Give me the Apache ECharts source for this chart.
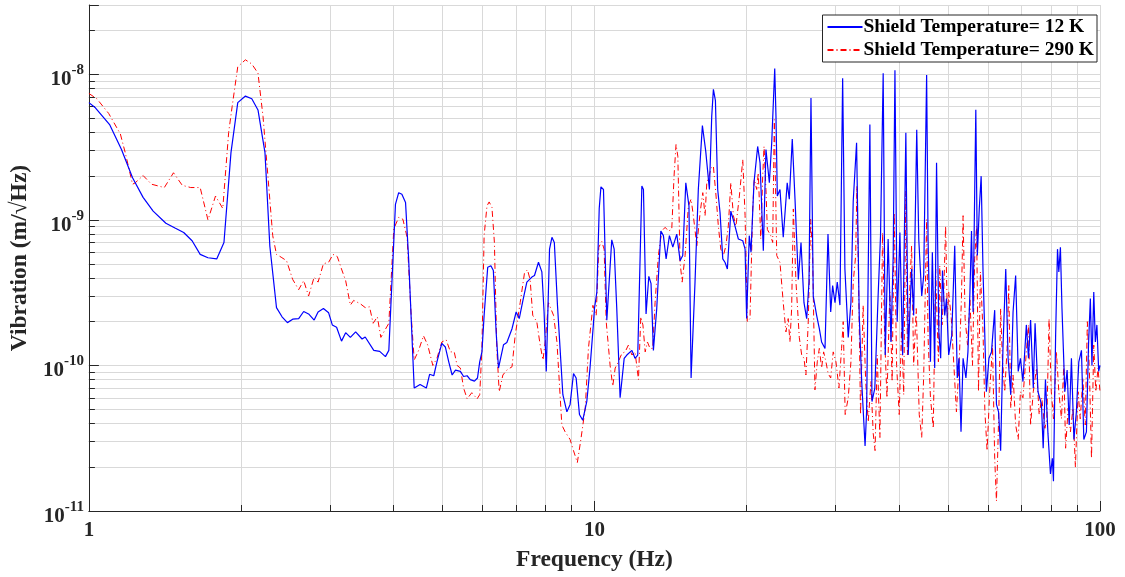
<!DOCTYPE html>
<html>
<head>
<meta charset="utf-8">
<title>Vibration spectrum</title>
<script src="https://cdn.jsdelivr.net/npm/echarts@6.0.0/dist/echarts.min.js"></script>
<style>
	html, body { margin: 0; padding: 0; background: #fff; }
	#main { width: 1125px; height: 577px; }
</style>
</head>
<body>
<div id="main"></div>
<script>
// 频率 (Hz) 和振动值 (m/√Hz)，屏蔽层温度 12 K
var freq12 = [1.00, 1.03, 1.10, 1.16, 1.22, 1.28, 1.34, 1.42, 1.48, 1.54, 1.60, 1.66, 1.72, 1.79, 1.85, 1.91, 1.97, 2.04, 2.10, 2.16,
	2.23, 2.28, 2.35, 2.41, 2.47, 2.53, 2.60, 2.66, 2.72, 2.79, 2.84, 2.91, 2.98, 3.03, 3.09, 3.16, 3.22, 3.29, 3.37, 3.47,
	3.52, 3.66, 3.76, 3.86, 3.92, 4.04, 4.10, 4.16, 4.23, 4.29, 4.40, 4.52, 4.65, 4.72, 4.81, 4.88, 4.99, 5.07, 5.15, 5.23,
	5.31, 5.43, 5.51, 5.60, 5.68, 5.79, 5.87, 5.93, 5.99, 6.05, 6.15, 6.24, 6.31, 6.39, 6.46, 6.61, 6.71, 6.87, 7.00, 7.10,
	7.22, 7.35, 7.52, 7.61, 7.75, 7.87, 7.95, 8.03, 8.15, 8.24, 8.33, 8.45, 8.66, 8.82, 8.95, 9.09, 9.20, 9.34, 9.48, 9.66,
	9.80, 9.95, 10.0, 10.11, 10.22, 10.3, 10.42, 10.58, 10.82, 10.94, 11.07, 11.24, 11.45, 11.59, 11.86, 12.03, 12.18, 12.41, 12.50, 12.65,
	12.81, 12.94, 13.08, 13.28, 13.53, 13.69, 13.86, 14.07, 14.29, 14.55, 14.77, 14.95, 15.16, 15.38, 15.53, 15.81, 16.05, 16.35, 16.6, 16.88,
	17.06, 17.19, 17.35, 17.53, 17.72, 17.94, 18.13, 18.32, 18.61, 18.89, 19.26, 19.65, 19.86, 20.0, 20.24, 20.40, 20.68, 21.03, 21.26, 21.4,
	21.58, 21.84, 22.08, 22.18, 22.42, 22.73, 22.86, 23.0, 23.28, 23.63, 24.06, 24.29, 24.62, 24.93, 25.31, 25.62, 25.97, 26.29, 26.57, 26.81,
	27.09, 27.51, 27.85, 28.14, 28.58, 28.97, 29.33, 29.59, 29.91, 30.22, 30.59, 30.97, 31.29, 31.77, 32.16, 32.50, 33.0, 33.4, 33.78, 34.3,
	34.54, 35.06, 35.4, 35.86, 36.4, 36.8, 37.25, 37.6, 38.1, 38.6, 38.99, 39.3, 39.7, 40.2, 40.7, 41.3, 41.75, 42.4, 42.8, 43.4,
	43.8, 44.4, 44.8, 45.4, 45.7, 46.2, 46.6, 47.1, 47.5, 48.0, 48.4, 48.8, 49.3, 49.7, 50.2, 50.9, 51.6, 52.2, 52.6, 53.1,
	53.6, 54.3, 54.8, 55.3, 55.7, 56.1, 56.8, 57.2, 57.7, 58.2, 58.7, 59.6, 60.3, 61.0, 61.9, 62.4, 63.0, 63.6, 64.3, 65.1,
	65.8, 66.6, 67.3, 68.1, 68.9, 69.6, 70.4, 71.5, 72.2, 72.9, 73.8, 74.4, 75.4, 76.6, 77.2, 78.0, 78.9, 79.8, 80.5, 80.9,
	81.7, 82.4, 82.9, 83.5, 84.1, 85.2, 86.1, 86.9, 87.8, 88.8, 89.8, 90.8, 91.9, 92.9, 94.0, 94.9, 95.7, 96.4, 97.2, 97.9,
	98.6, 99.4, 100];
var vib12 = [6.4e-9, 5.9e-9, 4.5e-9, 3.05e-9, 1.95e-9, 1.43e-9, 1.15e-9, 9.5e-10, 8.8e-10, 8.2e-10, 7.2e-10, 5.8e-10, 5.5e-10, 5.4e-10, 7.0e-10, 2.9e-9, 6.4e-9, 7.1e-9, 6.8e-9, 5.7e-9,
	2.9e-9, 6.6e-10, 2.5e-10, 2.16e-10, 1.97e-10, 2.08e-10, 2.1e-10, 2.35e-10, 2.26e-10, 2.05e-10, 2.33e-10, 2.46e-10, 2.3e-10, 1.9e-10, 1.83e-10, 1.47e-10, 1.68e-10, 1.56e-10, 1.7e-10, 1.52e-10,
	1.57e-10, 1.27e-10, 1.25e-10, 1.15e-10, 1.27e-10, 1.28e-9, 1.54e-9, 1.5e-9, 1.32e-9, 5.4e-10, 7.0e-11, 7.4e-11, 7.0e-11, 8.7e-11, 8.5e-11, 1.06e-10, 1.42e-10, 1.34e-10, 1.06e-10, 8.6e-11,
	9.3e-11, 9.1e-11, 8.4e-11, 8.5e-11, 8.0e-11, 7.8e-11, 8.2e-11, 1.06e-10, 1.24e-10, 2.21e-10, 4.73e-10, 4.85e-10, 4.49e-10, 1.7e-10, 9.6e-11, 1.39e-10, 1.44e-10, 1.79e-10, 2.33e-10, 2.1e-10,
	2.8e-10, 3.74e-10, 4.05e-10, 4.15e-10, 5.12e-10, 4.4e-10, 2.33e-10, 9.1e-11, 6.3e-10, 7.6e-10, 7.0e-10, 2.59e-10, 6.3e-11, 4.8e-11, 5.4e-11, 8.8e-11, 8.2e-11, 4.6e-11, 4.2e-11, 5.7e-11,
	9.6e-11, 1.9e-10, 2.46e-10, 3.2e-10, 1.2e-9, 1.69e-9, 1.62e-9, 2.05e-10, 7.3e-10, 6.3e-10, 2.46e-10, 6.0e-11, 1.12e-10, 1.18e-10, 1.27e-10, 1.12e-10, 1.18e-10, 1.71e-9, 1.62e-9, 2.26e-10,
	4.1e-10, 3.65e-10, 1.27e-10, 2.46e-10, 8.4e-10, 7.8e-10, 5.4e-10, 7.8e-10, 6.5e-10, 8.0e-10, 5.25e-10, 5.7e-10, 1.8e-9, 1.25e-9, 8.2e-11, 3.74e-10, 1.62e-9, 4.45e-9, 2.97e-9, 1.62e-9,
	5.15e-9, 7.9e-9, 6.6e-9, 1.62e-9, 1.12e-9, 5.4e-10, 5.1e-10, 4.6e-10, 1.15e-9, 9.6e-10, 7.4e-10, 7.2e-10, 6.3e-10, 2.1e-10, 7.8e-10, 6.0e-10, 1.8e-9, 3.2e-9, 2.47e-9, 2.5e-9,
	6.15e-10, 3.05e-9, 2.11e-9, 1.8e-9, 3.39e-9, 1.1e-8, 5.15e-9, 1.46e-9, 1.62e-9, 7.6e-10, 1.8e-9, 1.39e-9, 3.6e-9, 1.39e-9, 3.9e-10, 7.0e-10, 2.7e-10, 2.1e-10, 3.74e-10, 6.9e-9,
	3.0e-10, 2.21e-10, 1.79e-10, 1.45e-10, 1.31e-10, 8.0e-10, 2.33e-10, 3.54e-10, 2.7e-10, 3.74e-10, 2.6e-10, 9.4e-9, 4.6e-10, 1.56e-10, 2.7e-10, 1.35e-9, 3.39e-9, 2.21e-10, 7.75e-11, 2.8e-11,
	4.8e-11, 4.52e-9, 5.65e-11, 7.0e-11, 3.0e-10, 7.8e-10, 1.02e-8, 1.18e-10, 7.4e-10, 1.45e-10, 5.7e-10, 1.07e-8, 2.0e-10, 8.2e-10, 1.18e-10, 3.97e-9, 1.18e-10, 4.6e-10, 2.21e-10, 4.17e-9,
	7.4e-10, 3.0e-10, 4.15e-10, 9.9e-9, 7.4e-10, 1.06e-10, 6.0e-10, 9.6e-11, 2.47e-9, 1.7e-10, 1.12e-10, 4.5e-10, 2.21e-10, 2.88e-10, 1.18e-10, 1.61e-10, 6.65e-10, 8.2e-11, 1.12e-10, 3.5e-11,
	1.12e-10, 8.2e-11, 1.24e-10, 3.2e-10, 8.4e-10, 2.33e-10, 5.72e-9, 5.7e-10, 1.19e-9, 2.0e-9, 4.4e-10, 6.6e-11, 1.12e-10, 1.24e-10, 2.4e-10, 5.4e-11, 4.8e-11, 2.6e-11, 1.38e-10, 4.6e-10,
	1.12e-10, 6.3e-11, 2.33e-10, 4.15e-10, 9.1e-11, 1.12e-10, 7.75e-11, 1.9e-10, 1.12e-10, 2.05e-10, 7.0e-11, 1.95e-10, 6.6e-11, 5.4e-11, 2.7e-11, 8.0e-11, 3.4e-11, 1.8e-11, 2.3e-11, 1.6e-11,
	1.61e-10, 6.3e-10, 4.4e-10, 6.5e-10, 2.46e-10, 6.6e-11, 9.3e-11, 3.9e-11, 1.12e-10, 3.1e-11, 4.8e-11, 1.06e-10, 1.27e-10, 3.1e-11, 3.5e-11, 1.38e-10, 2.88e-10, 1.0e-10, 3.2e-10, 1.45e-10,
	1.9e-10, 9.1e-11, 1.0e-10];

// 屏蔽层温度 290 K
var freq290 = [1.00, 1.037, 1.094, 1.154, 1.18, 1.22, 1.235, 1.28, 1.33, 1.41, 1.47, 1.53, 1.59, 1.66, 1.72, 1.78, 1.84, 1.89, 1.92, 1.97,
	2.04, 2.10, 2.16, 2.21, 2.26, 2.31, 2.35, 2.40, 2.46, 2.53, 2.60, 2.66, 2.72, 2.79, 2.84, 2.91, 2.98, 3.04, 3.10, 3.16,
	3.22, 3.29, 3.34, 3.44, 3.52, 3.59, 3.65, 3.72, 3.78, 3.84, 3.92, 4.01, 4.10, 4.18, 4.26, 4.34, 4.40, 4.49, 4.59, 4.68,
	4.79, 4.88, 4.99, 5.09, 5.19, 5.28, 5.35, 5.43, 5.51, 5.60, 5.72, 5.86, 5.93, 5.99, 6.05, 6.13, 6.19, 6.27, 6.34, 6.41,
	6.48, 6.59, 6.71, 6.87, 6.97, 7.13, 7.27, 7.37, 7.46, 7.55, 7.69, 7.81, 7.91, 7.99, 8.11, 8.30, 8.43, 8.62, 8.75, 8.95,
	9.09, 9.25, 9.40, 9.59, 9.73, 9.93, 10.08, 10.2, 10.34, 10.45, 10.55, 10.74, 10.87, 10.99, 11.15, 11.33, 11.50, 11.67, 11.86, 12.03,
	12.22, 12.35, 12.47, 12.6, 12.73, 12.88, 13.04, 13.18, 13.38, 13.59, 13.80, 14.0, 14.22, 14.37, 14.5, 14.62, 14.77, 14.91, 15.11, 15.34,
	15.53, 15.69, 15.94, 16.18, 16.38, 16.55, 16.68, 16.85, 17.01, 17.19, 17.40, 17.58, 17.78, 17.99, 18.2, 18.40, 18.61, 18.83, 19.05, 19.35,
	19.65, 19.86, 20.06, 20.31, 20.56, 20.71, 20.94, 21.09, 21.33, 21.52, 21.65, 21.84, 21.98, 22.14, 22.32, 22.52, 22.69, 22.94, 23.28, 23.63,
	23.92, 24.17, 24.36, 24.55, 24.74, 25.04, 25.42, 25.70, 25.97, 26.2, 26.48, 26.77, 27.01, 27.3, 27.59, 27.85, 28.14, 28.4, 28.7, 28.99,
	29.33, 29.67, 30.04, 30.45, 30.82, 31.05, 31.33, 31.77, 32.16, 32.5, 32.86, 33.05, 33.3, 33.6, 34.0, 34.4, 34.8, 35.23, 35.6, 35.9,
	36.25, 36.7, 37.15, 37.5, 37.9, 38.4, 38.8, 39.17, 39.6, 40.07, 40.5, 40.9, 41.3, 41.6, 42.1, 42.4, 42.8, 43.3, 43.9, 44.4,
	44.8, 45.4, 45.7, 46.2, 46.8, 47.3, 47.9, 48.2, 48.7, 49.1, 49.5, 49.9, 50.2, 50.8, 51.4, 52.0, 52.7, 53.2, 53.6, 54.1,
	54.7, 55.3, 55.95, 56.5, 57.0, 57.5, 58.0, 58.7, 59.2, 59.8, 60.5, 61.3, 61.9, 62.4, 63.1, 63.6, 64.1, 64.8, 65.5, 66.0,
	66.6, 67.3, 68.1, 68.9, 69.6, 70.4, 71.5, 72.2, 72.9, 73.8, 74.9, 75.8, 76.7, 77.8, 78.5, 79.3, 80.1, 80.9, 82.0, 82.9,
	83.9, 84.8, 85.5, 86.5, 87.4, 88.4, 89.4, 90.5, 91.4, 92.5, 93.5, 94.4, 95.3, 96.2, 97.2, 98.1, 99.1, 100];
var vib290 = [7.4e-9, 6.8e-9, 5.4e-9, 3.9e-9, 2.9e-9, 1.76e-9, 1.8e-9, 2.02e-9, 1.76e-9, 1.67e-9, 2.11e-9, 1.73e-9, 1.67e-9, 1.67e-9, 1.0e-9, 1.46e-9, 1.2e-9, 4.0e-9, 6.0e-9, 1.13e-8,
	1.26e-8, 1.18e-8, 1.02e-8, 5.15e-9, 2.0e-9, 7.8e-10, 5.8e-10, 5.55e-10, 5.25e-10, 3.9e-10, 3.32e-10, 3.83e-10, 3.0e-10, 4.05e-10, 3.74e-10, 5.0e-10, 5.12e-10, 5.8e-10, 5.6e-10, 4.6e-10,
	3.83e-10, 2.6e-10, 2.8e-10, 2.66e-10, 2.5e-10, 2.53e-10, 1.95e-10, 2.16e-10, 1.56e-10, 1.72e-10, 1.95e-10, 8.7e-10, 1.04e-9, 1.01e-9, 7.6e-10, 2.21e-10, 1.09e-10, 1.27e-10, 1.6e-10, 1.38e-10,
	1.0e-10, 1.12e-10, 1.45e-10, 1.5e-10, 1.24e-10, 1.24e-10, 1.0e-10, 9.6e-11, 7.0e-11, 5.9e-11, 6.5e-11, 5.9e-11, 6.3e-11, 1.31e-10, 7.8e-10, 1.25e-9, 1.33e-9, 1.22e-9, 7.0e-10, 1.31e-10,
	6.6e-11, 8.6e-11, 9.3e-11, 9.8e-11, 1.61e-10, 2.7e-10, 4.3e-10, 4.55e-10, 3.9e-10, 2.21e-10, 2.0e-10, 1.38e-10, 1.09e-10, 1.45e-10, 2.7e-10, 2.21e-10, 1.45e-10, 3.9e-11, 3.5e-11, 3.1e-11,
	2.6e-11, 2.15e-11, 3.1e-11, 5.1e-11, 1.31e-10, 2.59e-10, 2.21e-10, 6.5e-10, 7.1e-10, 6.3e-10, 2.0e-10, 1.0e-10, 7.2e-11, 9.6e-11, 1.06e-10, 1.21e-10, 1.24e-10, 1.38e-10, 1.18e-10, 1.24e-10,
	8.0e-11, 2.16e-10, 1.9e-10, 1.24e-10, 1.45e-10, 1.31e-10, 1.31e-10, 2.7e-10, 5.7e-10, 8.4e-10, 8.9e-10, 8.4e-10, 8.6e-10, 2.0e-9, 3.3e-9, 2.74e-9, 5.1e-10, 3.74e-10, 5.7e-10, 1.25e-9,
	1.39e-9, 1.07e-9, 6.65e-10, 1.12e-9, 1.54e-9, 1.07e-9, 1.8e-9, 2.0e-9, 2.28e-9, 2.34e-9, 1.46e-9, 9.1e-10, 6.3e-10, 5.7e-10, 6.65e-10, 9.1e-10, 1.8e-9, 1.07e-9, 9.1e-10, 1.46e-9,
	2.6e-9, 1.07e-9, 2.0e-10, 2.1e-10, 1.19e-9, 1.9e-9, 1.62e-9, 2.11e-9, 7.4e-10, 2.0e-9, 3.2e-9, 1.62e-9, 8.6e-10, 8.4e-10, 7.8e-10, 7.0e-10, 4.89e-9, 5.7e-10, 5.1e-10, 2.7e-10,
	1.7e-10, 2.1e-10, 1.45e-10, 2.46e-10, 1.19e-9, 3.74e-10, 1.56e-10, 1.18e-10, 1.12e-10, 8.6e-11, 2.0e-10, 1.01e-9, 5.7e-10, 6.8e-11, 1.06e-10, 1.31e-10, 9.6e-11, 1.24e-10, 1.06e-10, 8.8e-11,
	8.2e-11, 1.24e-10, 1.06e-10, 7.0e-11, 1.31e-10, 2.0e-10, 4.6e-11, 6.0e-11, 1.06e-10, 3.74e-10, 5.7e-10, 1.71e-9, 3.74e-10, 4.6e-11, 2.59e-10, 7.75e-11, 4.1e-11, 7.75e-11, 3.4e-11, 2.6e-11,
	1.18e-10, 3.2e-11, 8.2e-10, 1.56e-10, 6.0e-11, 3.2e-10, 7.75e-11, 1.12e-9, 1.0e-10, 4.6e-11, 1.79e-10, 6.3e-11, 1.58e-9, 1.18e-10, 3.74e-10, 6.65e-10, 1.0e-10, 2.46e-10, 4.6e-11, 3.2e-11,
	8.6e-11, 1.01e-9, 1.56e-10, 6.0e-11, 3.7e-11, 4.6e-10, 1.06e-10, 4.85e-10, 1.9e-10, 3.32e-10, 9.1e-10, 2.1e-10, 3.2e-10, 2.1e-10, 1.0e-10, 4.8e-11, 1.12e-10, 2.88e-10, 1.07e-9, 2.1e-10,
	1.38e-10, 2.88e-10, 1.0e-10, 5.4e-10, 9.1e-10, 6.6e-11, 4.4e-10, 1.7e-10, 4.8e-11, 2.6e-11, 6.6e-11, 1.38e-10, 2.3e-11, 1.17e-11, 5.1e-11, 2.46e-10, 1.12e-10, 6.6e-11, 1.31e-10, 3.54e-10,
	5.1e-11, 8.6e-11, 3.9e-11, 3.1e-11, 6.6e-11, 6.0e-11, 1.24e-10, 1.9e-10, 3.9e-11, 6.6e-11, 9.6e-11, 4.6e-11, 6.0e-11, 3.7e-11, 4.3e-11, 2.1e-10, 6.6e-11, 4.3e-11, 1.24e-10, 6.6e-11,
	4.3e-11, 1.0e-10, 2.7e-11, 5.1e-11, 3.5e-11, 5.1e-11, 2.0e-11, 6.6e-11, 4.3e-11, 8.2e-11, 3.9e-11, 2.0e-10, 9.1e-11, 2.3e-11, 1.38e-10, 6.6e-11, 9.6e-11, 6.6e-11];

var xMin = 1, xMax = 100;
var yMin = 1e-11, yMax = 3e-8;
var seriesNames = ['Shield Temperature= 12 K', 'Shield Temperature= 290 K'];

var font = '"Liberation Serif", "Times New Roman", serif';
var gridColor = '#d9d9d9';
var axisColor = '#262626';

// 拼成 [x, y] 数组
function pairs(xs, ys) {
	var out = [];
	for (var i = 0; i < xs.length; i++) {
		out.push([xs[i], ys[i]]);
	}
	return out;
}

var chart = echarts.init(document.getElementById('main'), null, { renderer: 'canvas' });

var option = {
	animation: false,
	backgroundColor: '#fff',
	grid: { left: 88, right: 25, top: 5, bottom: 64 },
	legend: {
		orient: 'vertical',
		right: 28,
		top: 15,
		backgroundColor: '#fff',
		borderColor: axisColor,
		borderWidth: 1,
		borderRadius: 0,
		padding: [2, 3, 2, 4],
		itemWidth: 35,
		itemHeight: 14,
		itemGap: 3,
		itemStyle: { opacity: 0 },	// 只要线，不要圆点
		textStyle: { fontFamily: font, fontWeight: 'bold', fontSize: 19.5, color: '#000', padding: [0, 0, 0, -4] },
		data: seriesNames
	},
	xAxis: {
		type: 'log',
		logBase: 10,
		min: xMin,
		max: xMax,
		name: 'Frequency (Hz)',
		nameLocation: 'middle',
		nameGap: 37,
		nameTextStyle: { fontFamily: font, fontWeight: 'bold', fontSize: 23.5, color: axisColor },
		axisLine: { lineStyle: { color: axisColor, width: 1 } },
		axisTick: { inside: true, length: 10, lineStyle: { color: axisColor } },
		minorTick: { show: true, splitNumber: 9, length: 6, lineStyle: { color: axisColor } },
		axisLabel: {
			margin: 9,
			fontFamily: font, fontWeight: 'bold', fontSize: 21, color: axisColor,
			formatter: function (v) { return String(Math.round(v)); }
		},
		splitLine: { show: true, lineStyle: { color: gridColor, width: 1 } },
		minorSplitLine: { show: true, lineStyle: { color: gridColor, width: 1 } }
	},
	yAxis: {
		type: 'log',
		logBase: 10,
		min: yMin,
		max: yMax,
		name: 'Vibration (m/√Hz)',
		nameLocation: 'middle',
		nameGap: 52,
		nameTextStyle: { fontFamily: font, fontWeight: 'bold', fontSize: 23.5, color: axisColor },
		axisLine: { show: true, lineStyle: { color: axisColor, width: 1 } },
		axisTick: { show: true, inside: true, length: 10, lineStyle: { color: axisColor } },
		minorTick: { show: true, splitNumber: 9, length: 6, lineStyle: { color: axisColor } },
		axisLabel: {
			margin: 5,
			showMaxLabel: false,
			formatter: function (v) {
				var e = Math.round(Math.log(v) / Math.LN10);
				return '{b|10}{s|' + e + '}';
			},
			rich: {
				b: { fontFamily: font, fontWeight: 'bold', fontSize: 21, color: axisColor, padding: [11, 0, 0, 0] },
				s: { fontFamily: font, fontWeight: 'bold', fontSize: 15, color: axisColor, padding: [0, 0, 8, 0] }
			}
		},
		splitLine: { show: true, lineStyle: { color: gridColor, width: 1 } },
		minorSplitLine: { show: true, lineStyle: { color: gridColor, width: 1 } }
	},
	series: [
		{
			name: seriesNames[0],
			type: 'line',
			data: pairs(freq12, vib12),
			symbol: 'none',
			lineStyle: { color: '#0000ff', width: 1.2 },
			itemStyle: { color: '#0000ff' },
			z: 3
		},
		{
			name: seriesNames[1],
			type: 'line',
			data: pairs(freq290, vib290),
			symbol: 'none',
			lineStyle: { color: '#ff0000', width: 1, type: [6, 3, 1, 3] },
			itemStyle: { color: '#ff0000' },
			z: 2
		}
	]
};
chart.setOption(option);
</script>
</body>
</html>
